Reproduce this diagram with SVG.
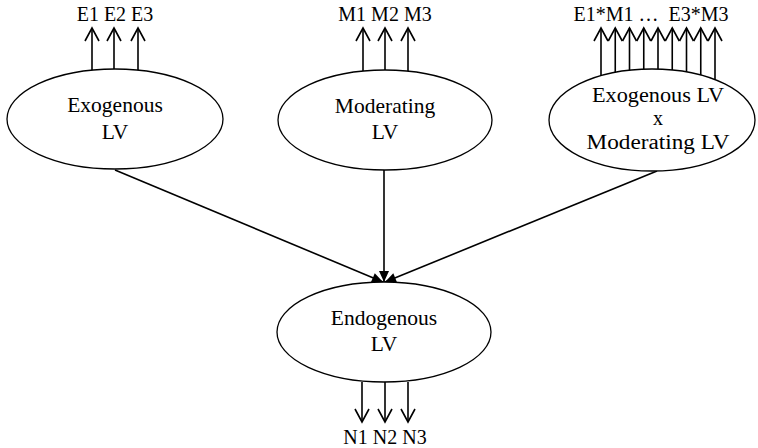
<svg xmlns="http://www.w3.org/2000/svg" width="758" height="448" viewBox="0 0 758 448">
<style>
text{font-size:20px;fill:#000;text-anchor:middle}
text.n{font-size:21.5px}
.node ellipse{fill:#fff;stroke:#000;stroke-width:1.3}
.ind{stroke:#000;stroke-width:1.6;fill:none;marker-end:url(#open)}
.path{stroke:#000;stroke-width:1.6;fill:none;marker-end:url(#solid)}
</style>
<defs>
<marker id="open" markerUnits="userSpaceOnUse" viewBox="-15 -9 17 18" refX="0" refY="0" markerWidth="17" markerHeight="18" orient="auto">
<path d="M-13,-7 L0,0 L-13,7" fill="none" stroke="#000" stroke-width="1.6"/>
</marker>
<marker id="solid" markerUnits="userSpaceOnUse" viewBox="-12 -6 14 12" refX="0" refY="0" markerWidth="14" markerHeight="12" orient="auto">
<path d="M-11,-5 L0,0 L-11,5 Z" fill="#000" stroke="none"/>
</marker>
</defs>
<g id="connectors">
<line class="path" x1="115" y1="170" x2="383" y2="282"/>
<line class="path" x1="384" y1="170" x2="384" y2="282"/>
<line class="path" x1="657" y1="171" x2="385" y2="282"/>
</g>
<g font-family="Liberation Serif, DejaVu Serif, serif">
<g id="exogenous" class="node">
<ellipse cx="115" cy="119" rx="108" ry="50"/>
<text class="n" x="115" y="112">Exogenous</text>
<text class="n" x="115" y="139">LV</text>
<line class="ind" x1="92" y1="70" x2="92" y2="28"/>
<line class="ind" x1="114" y1="69" x2="114" y2="28"/>
<line class="ind" x1="138" y1="70" x2="138" y2="28"/>
<text x="115" y="21">E1 E2 E3</text>
</g>
<g id="moderating" class="node">
<ellipse cx="385" cy="120" rx="107" ry="50"/>
<text class="n" x="385" y="113">Moderating</text>
<text class="n" x="385" y="139">LV</text>
<line class="ind" x1="363" y1="71" x2="363" y2="28"/>
<line class="ind" x1="385" y1="70" x2="385" y2="28"/>
<line class="ind" x1="408" y1="71" x2="408" y2="28"/>
<text x="385" y="21">M1 M2 M3</text>
</g>
<g id="interaction" class="node">
<ellipse cx="652" cy="120" rx="103" ry="51"/>
<text x="658" y="102" textLength="132" lengthAdjust="spacingAndGlyphs">Exogenous LV</text>
<text x="658" y="125">x</text>
<text x="658" y="149" textLength="143" lengthAdjust="spacingAndGlyphs">Moderating LV</text>
<line class="ind" x1="601" y1="75.7" x2="601" y2="28"/>
<line class="ind" x1="615.25" y1="72.4" x2="615.25" y2="28"/>
<line class="ind" x1="629.5" y1="70.2" x2="629.5" y2="28"/>
<line class="ind" x1="643.75" y1="69.2" x2="643.75" y2="28"/>
<line class="ind" x1="658" y1="69.1" x2="658" y2="28"/>
<line class="ind" x1="672.25" y1="70" x2="672.25" y2="28"/>
<line class="ind" x1="686.5" y1="72" x2="686.5" y2="28"/>
<line class="ind" x1="700.75" y1="75.1" x2="700.75" y2="28"/>
<line class="ind" x1="715" y1="79.7" x2="715" y2="28"/>
<text x="651" y="21" xml:space="preserve">E1*M1 …  E3*M3</text>
</g>
<g id="endogenous" class="node">
<ellipse cx="384" cy="332" rx="107" ry="50"/>
<text class="n" x="384" y="325">Endogenous</text>
<text class="n" x="384" y="351">LV</text>
<line class="ind" x1="362" y1="382" x2="362" y2="422"/>
<line class="ind" x1="385" y1="382" x2="385" y2="422"/>
<line class="ind" x1="408" y1="382" x2="408" y2="422"/>
<text x="385" y="444">N1 N2 N3</text>
</g>
</g>
</svg>
